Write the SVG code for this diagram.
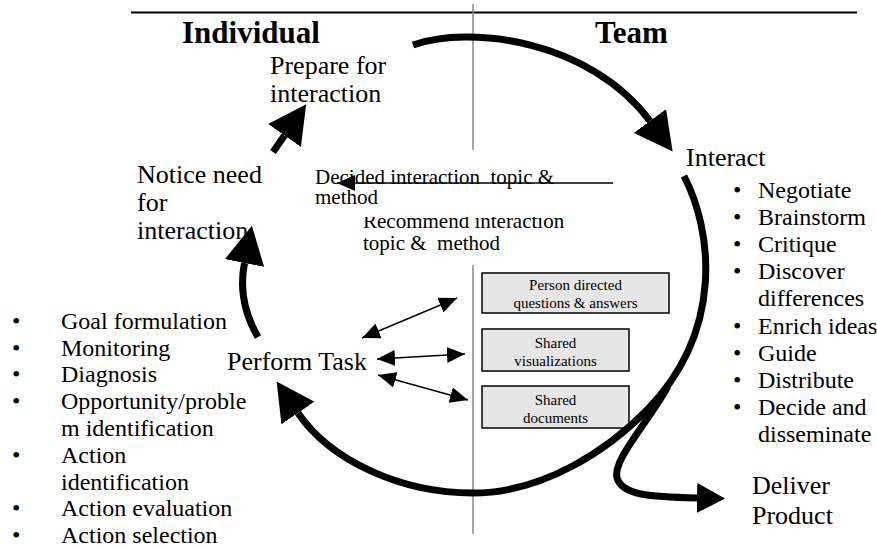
<svg xmlns="http://www.w3.org/2000/svg" width="877" height="549" viewBox="0 0 877 549">
<style>
text { font-family: "Liberation Serif", "Times New Roman", serif; fill: #000; }
.hdr { font-size: 31px; font-weight: bold; }
.lbl { font-size: 26px; }
.lst { font-size: 24px; }
.mid { font-size: 21px; white-space: pre; }
.box { fill: #e6e6e6; stroke: #000; stroke-width: 1.5; }
.btx { font-size: 15px; text-anchor: middle; }
.thick { fill: none; stroke: #000; stroke-width: 7; marker-end: url(#ah); }
.thin { fill: none; stroke: #000; stroke-width: 1.5; marker-start: url(#sh); marker-end: url(#sh); }
.divider { stroke: #888; stroke-width: 1.5; fill: none; }
</style>
<defs>
<marker id="ah" markerUnits="userSpaceOnUse" viewBox="0 0 38 40" markerWidth="38" markerHeight="40" refX="0" refY="20" orient="auto">
<path d="M0,0 L38,20 L0,40 Z" fill="#000"/>
</marker>
<marker id="ahs" markerUnits="userSpaceOnUse" viewBox="0 0 28 30" markerWidth="28" markerHeight="30" refX="0" refY="15" orient="auto">
<path d="M0,0 L28,15 L0,30 Z" fill="#000"/>
</marker>
<marker id="sh" markerUnits="userSpaceOnUse" viewBox="0 0 18 16" markerWidth="18" markerHeight="16" refX="18" refY="8" orient="auto-start-reverse">
<path d="M0,0 L18,8 L0,16 Z" fill="#000"/>
</marker>
<clipPath id="recClip"><rect x="340" y="217" width="260" height="50"/></clipPath>
</defs>

<g id="frame">
<line x1="131" y1="12.5" x2="857" y2="12.5" stroke="#000" stroke-width="2"/>
<line class="divider" x1="473" y1="4" x2="473" y2="150"/>
<line class="divider" x1="473" y1="265" x2="473" y2="534"/>
</g>

<g id="header-individual"><text class="hdr" x="182" y="43">Individual</text></g>
<g id="header-team"><text class="hdr" x="595" y="43">Team</text></g>

<g id="node-prepare">
<text class="lbl" x="270" y="74">Prepare for</text>
<text class="lbl" x="270" y="102">interaction</text>
</g>

<g id="node-interact"><text class="lbl" x="686" y="166">Interact</text></g>

<g id="node-notice">
<text class="lbl" x="137" y="183">Notice need</text>
<text class="lbl" x="137" y="211">for</text>
<text class="lbl" x="137" y="239">interaction</text>
</g>

<g id="node-perform"><text class="lbl" x="227" y="370">Perform Task</text></g>

<g id="node-deliver">
<text class="lbl" x="752" y="494">Deliver</text>
<text class="lbl" x="752" y="524">Product</text>
</g>

<g id="node-decided">
<text class="mid" x="315" y="184">Decided interaction  topic &amp;</text>
<text class="mid" x="315" y="204">method</text>
</g>

<g id="node-recommend">
<text class="mid" x="363" y="228" clip-path="url(#recClip)">Recommend interaction</text>
<text class="mid" x="363" y="250">topic &amp;  method</text>
</g>

<g id="box-person">
<rect class="box" x="482" y="273" width="187" height="40"/>
<text class="btx" x="575.5" y="290">Person directed</text>
<text class="btx" x="575.5" y="308">questions &amp; answers</text>
</g>

<g id="box-visualizations">
<rect class="box" x="482" y="329" width="147" height="42"/>
<text class="btx" x="555.5" y="348">Shared</text>
<text class="btx" x="555.5" y="366">visualizations</text>
</g>

<g id="box-documents">
<rect class="box" x="482" y="386" width="147" height="42"/>
<text class="btx" x="555.5" y="405">Shared</text>
<text class="btx" x="555.5" y="423">documents</text>
</g>

<g id="list-individual">
<text class="lst" x="12" y="329">•</text><text class="lst" x="61" y="329">Goal formulation</text>
<text class="lst" x="12" y="356">•</text><text class="lst" x="61" y="356">Monitoring</text>
<text class="lst" x="12" y="382">•</text><text class="lst" x="61" y="382">Diagnosis</text>
<text class="lst" x="12" y="409">•</text><text class="lst" x="61" y="409">Opportunity/proble</text>
<text class="lst" x="61" y="436">m identification</text>
<text class="lst" x="12" y="463">•</text><text class="lst" x="61" y="463">Action</text>
<text class="lst" x="61" y="490">identification</text>
<text class="lst" x="12" y="516">•</text><text class="lst" x="61" y="516">Action evaluation</text>
<text class="lst" x="12" y="543">•</text><text class="lst" x="61" y="543">Action selection</text>
</g>

<g id="list-team">
<text class="lst" x="733" y="198">•</text><text class="lst" x="758" y="198">Negotiate</text>
<text class="lst" x="733" y="225">•</text><text class="lst" x="758" y="225">Brainstorm</text>
<text class="lst" x="733" y="252">•</text><text class="lst" x="758" y="252">Critique</text>
<text class="lst" x="733" y="279">•</text><text class="lst" x="758" y="279">Discover</text>
<text class="lst" x="758" y="306">differences</text>
<text class="lst" x="733" y="334">•</text><text class="lst" x="758" y="334">Enrich ideas</text>
<text class="lst" x="733" y="361">•</text><text class="lst" x="758" y="361">Guide</text>
<text class="lst" x="733" y="388">•</text><text class="lst" x="758" y="388">Distribute</text>
<text class="lst" x="733" y="415">•</text><text class="lst" x="758" y="415">Decide and</text>
<text class="lst" x="758" y="442">disseminate</text>
</g>

<g id="connectors">
<path class="thick" d="M413,45 C470,25 590,40 650,121"/>
<path class="thick" stroke-width="7.5" d="M273,152 L284.5,135.5"/>
<path class="thick" d="M258,337 Q237,301 244.5,263"/>
<path class="thick" d="M684,176 C712,230 725,330 647,410 C610,448 545,493 473,493 C400,493 330,460 298,413"/>
<path class="thick" stroke-width="6" style="marker-end:url(#ahs)" d="M668,386 C650,420 612,460 617,478 C622,495 650,497 697,498"/>
<line class="thin" style="marker-start:none" x1="613" y1="183" x2="337" y2="183"/>
<line class="thin" x1="362" y1="338" x2="457" y2="298"/>
<line class="thin" x1="377" y1="359" x2="465" y2="354"/>
<line class="thin" x1="378" y1="375" x2="468" y2="400"/>
</g>
</svg>
